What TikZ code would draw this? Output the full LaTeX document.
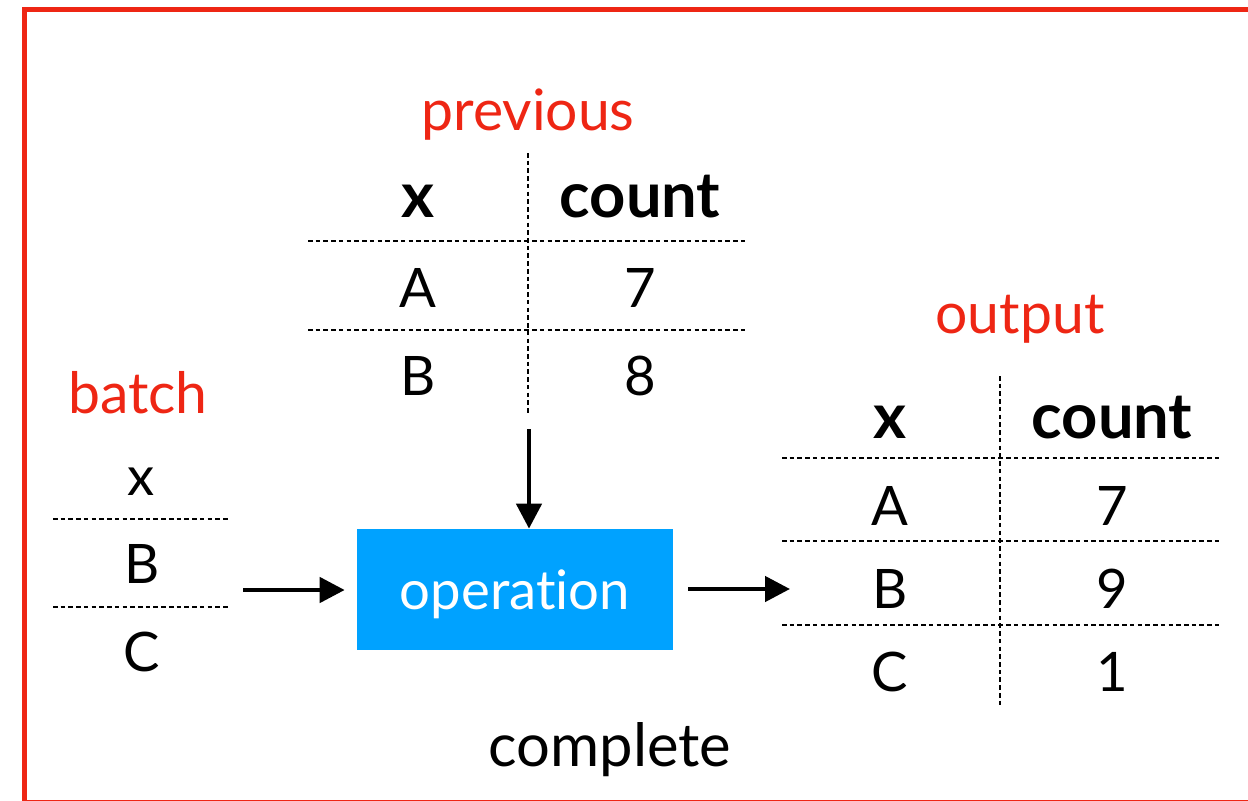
\documentclass[tikz,border=0pt]{standalone}
\usepackage{fontspec}
\setmainfont{Lato}[Ligatures={NoCommon,NoRare}]
\usepackage{tikz}
\usetikzlibrary{arrows.meta}
\definecolor{framered}{RGB}{238,38,20}
\definecolor{opblue}{RGB}{0,162,255}

\begin{document}
\begin{tikzpicture}[x=0.02cm,y=-0.02cm,
   every node/.style={font=\fontsize{31}{36}\selectfont,inner sep=0pt,anchor=base},
   head/.style={font=\fontsize{36}{40}\selectfont\bfseries},
   title/.style={text=framered,font=\fontsize{32.5}{38}\selectfont},
   sep/.style={line width=1.1pt,dash pattern=on 2.6pt off 1.8pt},
   flow/.style={line width=2.6pt,-{Triangle[length=0.5cm,width=0.5cm]}}]
\useasboundingbox (0,0) rectangle (1248,801);
\draw[framered,line width=2.8pt] (24.5,9.5) rectangle (1262,802.5);

% previous
\node[title] (prevTitle) at (528,130) {previous};
\node[head] (prevX) at (418,217) {x};
\node[head] (prevCount) at (640,217) {count};
\node (prevA) at (418,307) {A};
\node (prevSeven) at (640,307) {7};
\node (prevB) at (418,395) {B};
\node (prevEight) at (640,395) {8};
\draw[sep] (308,241) -- (748,241);
\draw[sep] (308,330) -- (748,330);
\draw[sep] (528,153) -- (528,415);

% batch
\node[title] (batchTitle) at (138,413) {batch};
\node (batchX) at (141,495) {x};
\node (batchB) at (142,583) {B};
\node (batchC) at (142,671) {C};
\draw[sep] (53,519) -- (229,519);
\draw[sep] (53,607) -- (229,607);

% output
\node[title] (outTitle) at (1020,333) {output};
\node[head] (outX) at (890,438) {x};
\node[head] (outCount) at (1112,438) {count};
\node (outA) at (890,525) {A};
\node (outSeven) at (1112,525) {7};
\node (outB) at (890,608) {B};
\node (outNine) at (1112,608) {9};
\node (outC) at (890,691) {C};
\node (outOne) at (1112,691) {1};
\draw[sep] (782,458) -- (1221,458);
\draw[sep] (782,541) -- (1221,541);
\draw[sep] (782,625) -- (1221,625);
\draw[sep] (1000,376) -- (1000,707);

% operation
\node[fill=opblue,text=white,anchor=center,text height=0.8cm,text depth=0cm,
      minimum width=6.32cm,minimum height=2.42cm] (op) at (515,589.5) {operation};
\coordinate (prevEnd) at (529,429);
\coordinate (batchEnd) at (243,590);
\coordinate (outStart) at (790,589);
\draw[flow] (prevEnd) -- (prevEnd |- op.north);
\draw[flow,shorten >=0.24cm] (batchEnd) -- (batchEnd -| op.west);
\draw[flow,shorten <=0.3cm] (op.east |- outStart) -- (outStart);

\node[font=\fontsize{34}{40}\selectfont] (complete) at (610,766) {complete};
\end{tikzpicture}
\end{document}
